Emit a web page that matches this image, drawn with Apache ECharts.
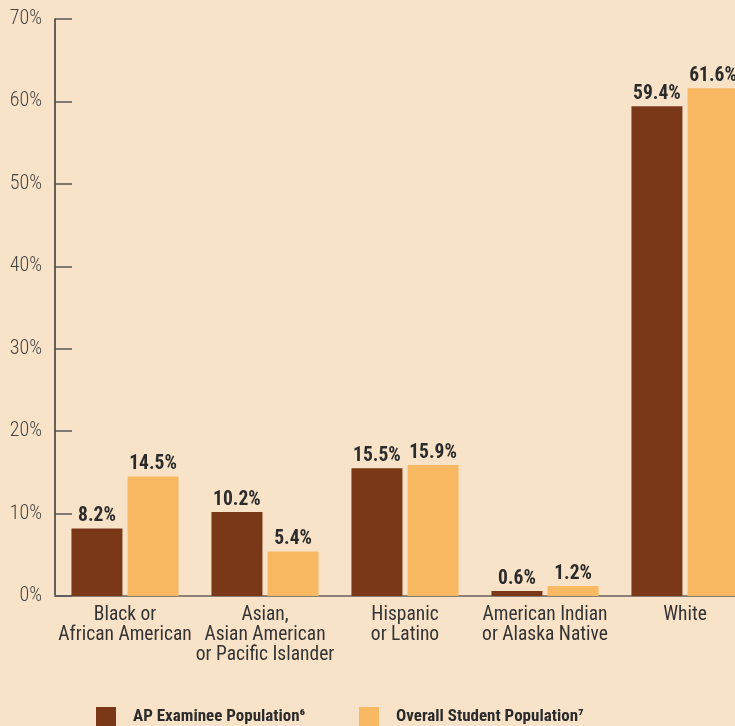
<!DOCTYPE html>
<html><head><meta charset="utf-8">
<script src="https://cdn.jsdelivr.net/npm/echarts@6/dist/echarts.min.js"></script>
<style>html,body{margin:0;padding:0;background:#f9e3c8;overflow:hidden;width:735px;height:726px;}#c{width:760px;height:726px;}</style>
</head><body><div id="c"></div>
<script>
const categories = ["Black or\nAfrican American", "Asian,\nAsian American\nor Pacific Islander", "Hispanic\nor Latino", "American Indian\nor Alaska Native", "White"];
const apExaminee = [8.2, 10.2, 15.5, 0.6, 59.4];
const overallStudent = [14.5, 5.4, 15.9, 1.2, 61.6];
const seriesNames = ["AP Examinee Population\u2076", "Overall Student Population\u2077"];
const yTicks = [0, 10, 20, 30, 40, 50, 60, 70];

const FONT = '"Roboto Condensed", "Liberation Sans Narrow", "Roboto", sans-serif';
const chart = echarts.init(document.getElementById('c'));
chart.setOption({
  backgroundColor: '#f9e3c8',
  animation: false,
  textStyle: { fontFamily: FONT },
  grid: { left: 55, top: 19, width: 700, height: 577, containLabel: false },
  legend: [
    { data: [seriesNames[0]], left: 96, top: 707, padding: 0, itemWidth: 20, itemHeight: 20, itemGap: 0, icon: 'rect',
      textStyle: { fontFamily: FONT, fontWeight: 'bold', fontSize: 17, color: '#2b2b2b', padding: [6, 0, 0, 12] } },
    { data: [seriesNames[1]], left: 359, top: 707, padding: 0, itemWidth: 20, itemHeight: 20, itemGap: 0, icon: 'rect',
      textStyle: { fontFamily: FONT, fontWeight: 'bold', fontSize: 17, color: '#2b2b2b', padding: [6, 0, 0, 12] } }
  ],
  xAxis: {
    type: 'category', data: categories,
    axisLine: { lineStyle: { color: '#8a8078', width: 2 } },
    axisTick: { show: false },
    axisLabel: { interval: 0, fontFamily: FONT, fontSize: 19.5, color: '#333', lineHeight: 20, margin: 9 }
  },
  yAxis: {
    type: 'value', min: 0, max: 70, interval: 10,
    axisLine: { show: true, lineStyle: { color: '#333', width: 1.5 } },
    axisTick: { show: true, inside: true, length: 17, lineStyle: { color: '#555', width: 1.5 } },
    splitLine: { show: false },
    axisLabel: { formatter: v => yTicks.includes(v) ? v + '%' : '', fontFamily: FONT, fontWeight: 300, fontSize: 20, color: '#444', margin: 13 }
  },
  series: [
    { name: seriesNames[0], type: 'bar', data: apExaminee, barWidth: 51, barGap: '10%',
      itemStyle: { color: '#7a3819' },
      label: { show: true, position: 'top', distance: 3, lineHeight: 18, formatter: p => p.value.toFixed(1) + '%',
        fontFamily: FONT, fontWeight: 'bold', fontSize: 19.5, color: '#2b2b2b' } },
    { name: seriesNames[1], type: 'bar', data: overallStudent, barWidth: 51,
      itemStyle: { color: '#f9b862' },
      label: { show: true, position: 'top', distance: 3, lineHeight: 18, formatter: p => p.value.toFixed(1) + '%',
        fontFamily: FONT, fontWeight: 'bold', fontSize: 19.5, color: '#2b2b2b' } }
  ]
});
</script></body></html>
